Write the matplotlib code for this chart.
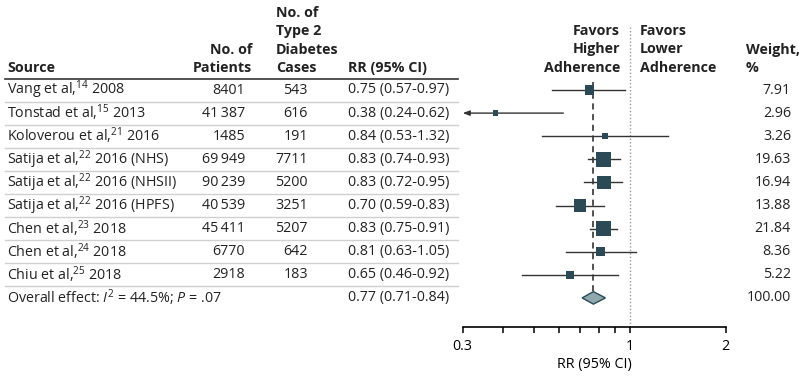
import numpy as np
import matplotlib
matplotlib.use('Agg')
import matplotlib.pyplot as plt
from matplotlib.ticker import FixedLocator, NullFormatter, FixedFormatter

FAMILY = ['Open Sans', 'DejaVu Sans']
plt.rcParams['font.family'] = FAMILY
plt.rcParams['mathtext.fontset'] = 'custom'
plt.rcParams['mathtext.rm'] = FAMILY[0]
plt.rcParams['mathtext.it'] = FAMILY[0] + ':italic'
plt.rcParams['mathtext.bf'] = FAMILY[0] + ':bold'

# data
sources = [r'Vang et al,$^{14}$ 2008', r'Tonstad et al,$^{15}$ 2013',
           r'Koloverou et al,$^{21}$ 2016', r'Satija et al,$^{22}$ 2016 (NHS)',
           r'Satija et al,$^{22}$ 2016 (NHSII)', r'Satija et al,$^{22}$ 2016 (HPFS)',
           r'Chen et al,$^{23}$ 2018', r'Chen et al,$^{24}$ 2018',
           r'Chiu et al,$^{25}$ 2018']
patients = [8401, 41387, 1485, 69949, 90239, 40539, 45411, 6770, 2918]
cases = [543, 616, 191, 7711, 5200, 3251, 5207, 642, 183]
rr = [0.75, 0.38, 0.84, 0.83, 0.83, 0.70, 0.83, 0.81, 0.65]
lo = [0.57, 0.24, 0.53, 0.74, 0.72, 0.59, 0.75, 0.63, 0.46]
hi = [0.97, 0.62, 1.32, 0.93, 0.95, 0.83, 0.91, 1.05, 0.92]
weights = [7.91, 2.96, 3.26, 19.63, 16.94, 13.88, 21.84, 8.36, 5.22]

overall_label = r'Overall effect: $I^2$ = 44.5%; $P$ = .07'
overall_rr, overall_lo, overall_hi, overall_w = 0.77, 0.71, 0.84, 100.00

xticks_major = [0.3, 1, 2]
xtick_labels = ['0.3', '1', '2']
xticks_minor = [0.4, 0.5, 0.6, 0.7, 0.8, 0.9]

DARK = '#2b4a56'
LINE = '#333333'
FS = 10.3


def fmt(n):
    if n >= 10000:
        return '{:,}'.format(n).replace(',', '\u2009')
    return str(n)


W, H = 804, 379
fig = plt.figure(figsize=(W / 100, H / 100), dpi=100)
tab = fig.add_axes([0, 0, 1, 1])
tab.set_xlim(0, W)
tab.set_ylim(H, 0)
tab.axis('off')

y0, dy = 90, 23.1
n = len(sources)
row_y = [y0 + dy * i for i in range(n + 1)]

# headers
hdr = dict(fontsize=FS, fontweight='bold', color='#222222', va='center')
tab.text(7, 68, 'Source', ha='left', **hdr)
tab.text(252, 50, 'No. of', ha='right', **hdr)
tab.text(252, 68, 'Patients', ha='right', **hdr)
for k, s in enumerate(['No. of', 'Type 2', 'Diabetes', 'Cases']):
    tab.text(276, 13 + 18.4 * k, s, ha='left', **hdr)
tab.text(348, 68, 'RR (95% CI)', ha='left', **hdr)
for k, s in enumerate(['Favors', 'Higher', 'Adherence']):
    tab.text(620, 31 + 18.4 * k, s, ha='right', **hdr)
for k, s in enumerate(['Favors', 'Lower', 'Adherence']):
    tab.text(640, 31 + 18.4 * k, s, ha='left', **hdr)
tab.text(746, 50, 'Weight,', ha='left', **hdr)
tab.text(746, 68, '%', ha='left', **hdr)

tab.plot([5, 458], [79, 79], color='#333333', lw=1.2)
for i in range(n):
    yy = (row_y[i] + row_y[i + 1]) / 2
    tab.plot([5, 458], [yy, yy], color='#d0d0d0', lw=1)

body = dict(fontsize=FS, color='#222222', va='center')
for i in range(n):
    y = row_y[i]
    tab.text(7, y, sources[i], ha='left', **body)
    tab.text(245, y, fmt(patients[i]), ha='right', **body)
    tab.text(308, y, fmt(cases[i]), ha='right', **body)
    tab.text(348, y, '{:.2f} ({:.2f}-{:.2f})'.format(rr[i], lo[i], hi[i]), ha='left', **body)
    tab.text(791, y, '{:.2f}'.format(weights[i]), ha='right', **body)
y = row_y[n]
tab.text(7, y, overall_label, ha='left', **body)
tab.text(348, y, '{:.2f} ({:.2f}-{:.2f})'.format(overall_rr, overall_lo, overall_hi), ha='left', **body)
tab.text(791, y, '{:.2f}'.format(overall_w), ha='right', **body)

# forest panel
x_left, x_right, y_top, y_bot = 462.7, 725.7, 25, 326.7
ax = fig.add_axes([x_left / W, 1 - y_bot / H, (x_right - x_left) / W, (y_bot - y_top) / H])
ax.patch.set_visible(False)
ax.set_xscale('log')
ax.set_xlim(0.3, 2)
to_row = lambda p: (p - y0) / dy
ax.set_ylim(to_row(y_bot), to_row(y_top))
for s in ['top', 'left', 'right']:
    ax.spines[s].set_visible(False)
ax.spines['bottom'].set_linewidth(1.2)
ax.set_yticks([])
ax.xaxis.set_major_locator(FixedLocator(xticks_major))
ax.xaxis.set_major_formatter(FixedFormatter(xtick_labels))
ax.xaxis.set_minor_locator(FixedLocator(xticks_minor))
ax.xaxis.set_minor_formatter(NullFormatter())
ax.tick_params(which='both', direction='out', length=4, width=1.1, labelsize=FS, pad=5)
ax.set_xlabel('RR (95% CI)', fontsize=FS, labelpad=2)

# null line and pooled estimate line
ax.axvline(1, color='#999999', lw=1, ls=(0, (1, 1.5)))
dh = 0.27
ax.plot([overall_rr, overall_rr], [to_row(82), n - dh], color='#222222', lw=1.1, ls=(0, (4, 3)))

rows = np.arange(n)
for i in range(n):
    if lo[i] < 0.3:
        ax.annotate('', xy=(0.3, i), xytext=(hi[i], i),
                    arrowprops=dict(arrowstyle='-|>,head_length=0.4,head_width=0.15',
                                    color=LINE, lw=1, shrinkA=0, shrinkB=0))
    else:
        ax.plot([lo[i], hi[i]], [i, i], color=LINE, lw=1, zorder=2)
ax.scatter(rr, rows, marker='s', s=np.array(weights) * 5.6, color=DARK, zorder=3, linewidths=0)

dx = [overall_lo, overall_rr, overall_hi, overall_rr]
dyv = [n, n - dh, n, n + dh]
ax.fill(dx, dyv, facecolor='#8fa9ae', edgecolor=DARK, lw=1, zorder=3)

fig.savefig('out.png', dpi=100)
